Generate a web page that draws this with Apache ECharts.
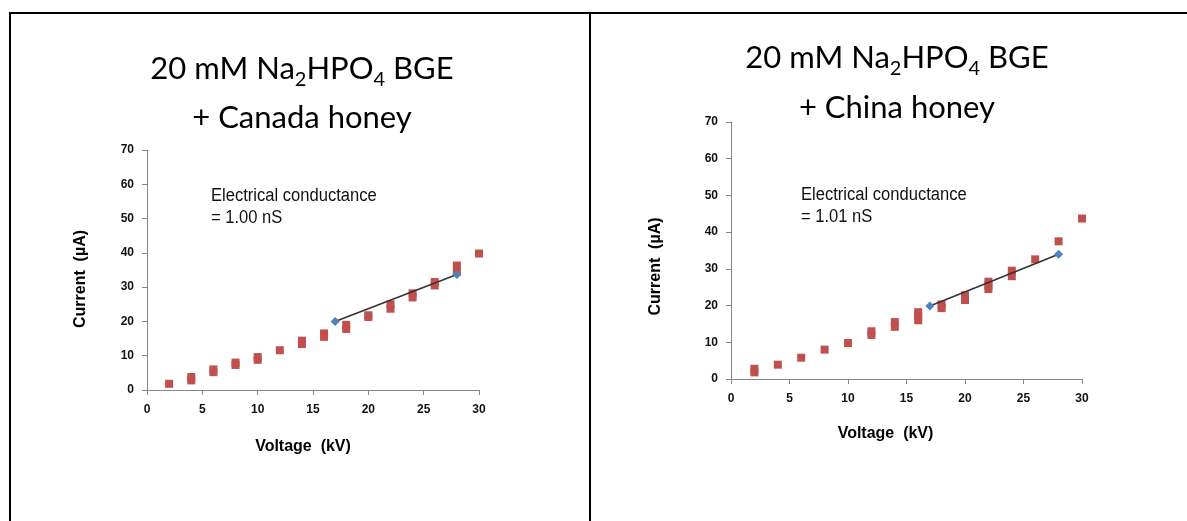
<!DOCTYPE html>
<html>
<head>
<meta charset="utf-8">
<script src="https://cdn.jsdelivr.net/npm/echarts@6/dist/echarts.min.js"></script>
<style>
html,body{margin:0;padding:0;background:#fff;}
#main{width:1187px;height:521px;}
</style>
</head>
<body>
<div id="main"></div>
<script>
// ---- data ----
const canadaVoltage = [2, 4, 4, 6, 6, 8, 8, 10, 10, 12, 14, 14, 16, 16, 18, 18, 20, 20, 22, 22, 24, 24, 26, 26, 28, 28, 30];
const canadaCurrent = [1.8, 2.8, 3.8, 5.2, 6.0, 7.3, 8.0, 8.8, 9.6, 11.6, 13.4, 14.4, 15.5, 16.5, 17.8, 19.0, 21.3, 21.8, 23.7, 25.0, 27.0, 28.2, 30.5, 31.5, 34.5, 36.3, 39.8];
const canadaFitX = [17, 28];
const canadaFitY = [20, 33.7];

const chinaVoltage = [2, 2, 4, 6, 8, 10, 12, 12, 14, 14, 16, 16, 16, 18, 18, 20, 20, 22, 22, 22, 24, 24, 26, 28, 30];
const chinaCurrent = [1.8, 2.8, 3.9, 5.8, 8.0, 9.8, 12.0, 13.0, 14.2, 15.5, 16.0, 17.2, 18.2, 19.3, 20.3, 21.5, 22.8, 24.5, 25.5, 26.5, 28.0, 29.5, 32.6, 37.5, 43.7];
const chinaFitX = [17, 28];
const chinaFitY = [19.9, 34];

const xTicks = [0, 5, 10, 15, 20, 25, 30];
const yTicks = [0, 10, 20, 30, 40, 50, 60, 70];

// title segments: [text, isSubscript]
const titleLine1 = [['20 mM Na', false], ['2', true], ['HPO', false], ['4', true], [' BGE', false]];
const titleLine2 = ['+ Canada honey', '+ China honey'];
const notes = [
  ['Electrical conductance', '= 1.00 nS'],
  ['Electrical conductance', '= 1.01 nS']
];
const xName = 'Voltage  (kV)';
const yName = 'Current  (\u00b5A)';

// ---- build ----
const pairs = (xs, ys) => xs.map((x, i) => [x, ys[i]]);
const tickFont = {fontFamily: '"Liberation Sans", Arial', fontWeight: 'bold', fontSize: 12, color: '#111'};
const nameFont = {fontFamily: '"Liberation Sans", Arial', fontWeight: 'bold', fontSize: 16, color: '#000'};

function xAxis(idx, pad, gap, margin) {
  return {
    type: 'value', gridIndex: idx, min: xTicks[0], max: xTicks[xTicks.length - 1], interval: 5,
    name: xName, nameLocation: 'middle', nameGap: gap,
    nameTextStyle: Object.assign({padding: [0, pad, 0, 0]}, nameFont),
    axisLine: {show: true, onZero: false, lineStyle: {color: '#888', width: 1}},
    axisTick: {show: true, length: 5, lineStyle: {color: '#888'}},
    axisLabel: Object.assign({margin: margin}, tickFont),
    splitLine: {show: false}
  };
}
function yAxis(idx, gap, pad, margin) {
  return {
    type: 'value', gridIndex: idx, min: yTicks[0], max: yTicks[yTicks.length - 1], interval: 10,
    name: yName, nameLocation: 'middle', nameGap: gap, nameRotate: 90,
    nameTextStyle: Object.assign({padding: [0, pad, 0, 0]}, nameFont),
    axisLine: {show: true, onZero: false, lineStyle: {color: '#888', width: 1}},
    axisTick: {show: true, length: 5, lineStyle: {color: '#888'}},
    axisLabel: Object.assign({margin: margin}, tickFont),
    splitLine: {show: false}
  };
}
const titleFamily = 'Lato, "Open Sans", sans-serif';
const mainFont = '31px ' + titleFamily;
const subFont = '20px ' + titleFamily;
const measureCtx = document.createElement('canvas').getContext('2d');
function textWidth(t, font) { measureCtx.font = font; return measureCtx.measureText(t).width; }

function titleGraphic(cx, y1, y2, line2) {
  const out = [];
  const widths = titleLine1.map(s => textWidth(s[0], s[1] ? subFont : mainFont));
  const total = widths.reduce((a, b) => a + b, 0);
  let x = cx - total / 2;
  titleLine1.forEach((s, i) => {
    out.push({type: 'text', x: x, y: s[1] ? y1 + 11 : y1,
      style: {text: s[0], align: 'left', verticalAlign: 'middle',
        font: s[1] ? subFont : mainFont, fill: '#000'}});
    x += widths[i];
  });
  out.push({type: 'text', x: cx, y: y2,
    style: {text: line2, align: 'center', verticalAlign: 'middle', font: mainFont, fill: '#000'}});
  return out;
}
function noteGraphic(n, x, y) {
  return {type: 'text', x: x, y: y, scaleX: 0.92,
    style: {text: n[0] + '\n' + n[1], lineHeight: 22,
      font: '18px "Liberation Sans", Arial', fill: '#111'}};
}
function scatter(idx, xs, ys) {
  return {type: 'scatter', xAxisIndex: idx, yAxisIndex: idx, data: pairs(xs, ys),
    symbol: 'rect', symbolSize: [8, 8], itemStyle: {color: '#c0504d', opacity: 1}, z: 3};
}
function fit(idx, xs, ys) {
  return {type: 'line', xAxisIndex: idx, yAxisIndex: idx, data: pairs(xs, ys),
    symbol: 'diamond', symbolSize: 9, showSymbol: true,
    lineStyle: {color: '#333', width: 1.6}, itemStyle: {color: '#4f81bd'}, z: 4};
}

const chart = echarts.init(document.getElementById('main'), null, {renderer: 'canvas'});
chart.setOption({
  animation: false,
  backgroundColor: '#fff',
  grid: [
    {left: 147, width: 332, top: 150, height: 240},
    {left: 731, width: 351, top: 122, height: 257}
  ],
  xAxis: [xAxis(0, 20, 49, 14), xAxis(1, 42, 47, 14)],
  yAxis: [yAxis(0, 58, 18, 13), yAxis(1, 67, 32, 13)],
  series: [
    scatter(0, canadaVoltage, canadaCurrent),
    fit(0, canadaFitX, canadaFitY),
    scatter(1, chinaVoltage, chinaCurrent),
    fit(1, chinaFitX, chinaFitY)
  ],
  graphic: [
    // table borders
    {type: 'line', shape: {x1: 9, y1: 13, x2: 1187, y2: 13}, style: {stroke: '#000', lineWidth: 2}},
    {type: 'line', shape: {x1: 10, y1: 12, x2: 10, y2: 521}, style: {stroke: '#000', lineWidth: 2}},
    {type: 'line', shape: {x1: 590, y1: 12, x2: 590, y2: 521}, style: {stroke: '#000', lineWidth: 2}},
    ...titleGraphic(302, 69, 118, titleLine2[0]),
    ...titleGraphic(897, 58, 108, titleLine2[1]),
    noteGraphic(notes[0], 211, 185),
    noteGraphic(notes[1], 801, 184)
  ]
});
</script>
</body>
</html>
